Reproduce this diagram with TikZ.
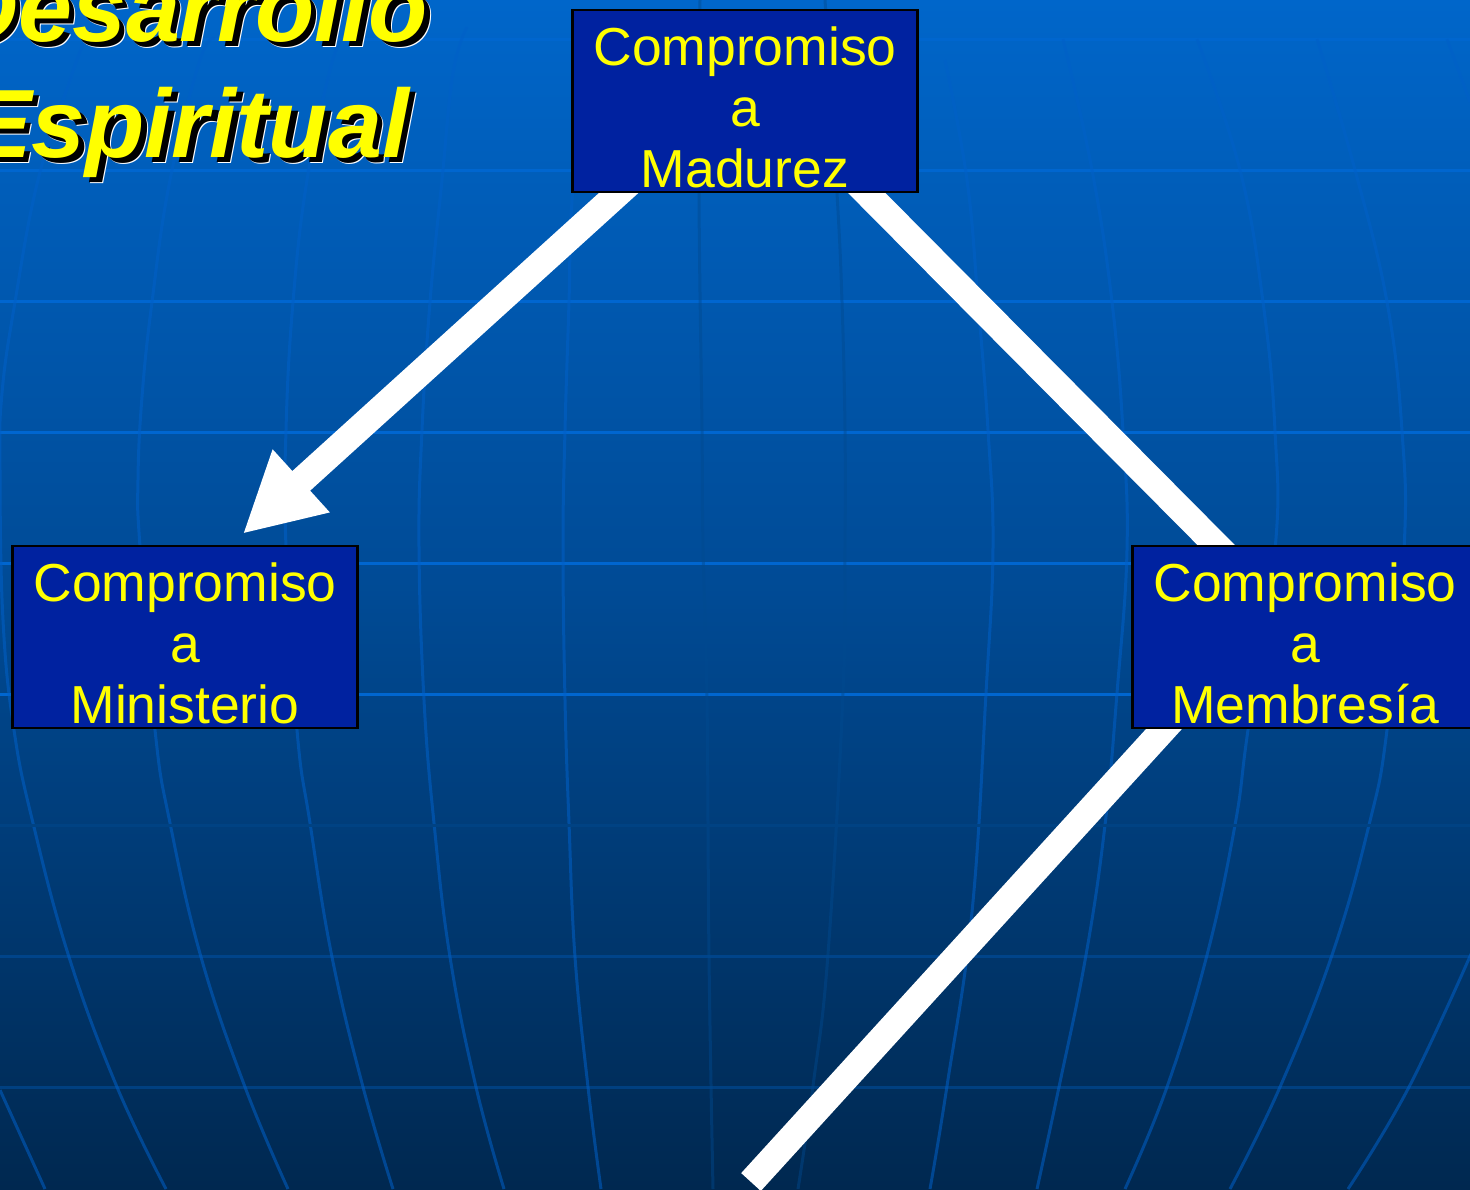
\documentclass[tikz,border=0pt]{standalone}
\usepackage{fontspec}
\setmainfont{Liberation Sans}
\usetikzlibrary{arrows.meta}
\pgfdeclarelayer{bglayer}
\pgfdeclarelayer{connlayer}
\pgfsetlayers{bglayer,connlayer,main}
\definecolor{bgA}{HTML}{0066CA}
\definecolor{bgB}{HTML}{004A94}
\definecolor{bgC}{HTML}{002850}
\definecolor{gridbright}{HTML}{0066D0}
\definecolor{gridmer}{HTML}{0060C8}
\definecolor{gridmid}{HTML}{004A90}
\definecolor{boxfill}{HTML}{0022A0}
\definecolor{ttl}{HTML}{FFFF00}
\tikzset{
  meridian/.style={draw=gridmer,opacity=.55,line width=3pt},
  centremer/.style={draw=gridmid,opacity=.45,line width=3pt},
  parallel/.style={line width=3pt},
  commitbox/.style={draw=black,line width=2.7pt,fill=boxfill,text=ttl,align=center,
    minimum width=345pt,minimum height=181pt,inner sep=0pt,outer sep=0pt,
    font=\fontsize{53.5}{61}\selectfont},
  conn/.style={draw=white,line width=26.5pt},
  titletext/.style={anchor=base,inner sep=0pt,font=\fontsize{97}{115}\selectfont\bfseries\itshape}
}
\newcommand{\firststrut}{\rule{0pt}{55pt}}
\newcommand{\laststrut}{\rule[-5pt]{0pt}{5pt}}
\newcommand{\mer}[2]{\path[#1] plot[smooth,tension=.7] coordinates {#2};}
\begin{document}
\begin{tikzpicture}[x=1pt,y=-1pt]
\useasboundingbox (0,0) rectangle (1470,1189);
\clip (0,0) rectangle (1470,1189);
\begin{pgfonlayer}{bglayer}
  \shade[top color=bgA,bottom color=bgB] (0,0) rectangle (1470,601);
  \shade[top color=bgB,bottom color=bgC] (0,600) rectangle (1470,1189);
  % parallels behind the meridians
  \draw[parallel,color=gridbright!70!bgA] (0,39.5) -- (1470,39.5);
  \draw[parallel,color=gridbright!85!bgA] (0,170) -- (1470,170);
  \foreach \yy in {301.5,432,563.5,694}{\draw[parallel,color=gridbright] (0,\yy) -- (1470,\yy);}
  \draw[parallel,color=gridbright!45!bgC] (0,956) -- (1470,956);
  \draw[parallel,color=gridbright!38!bgC] (0,1087) -- (1470,1087);
  % meridians, left half
  \mer{meridian}{(0,1090) (45,1189)}
  \mer{meridian}{(85,39) (70,80) (38,180) (15,302) (2,393) (0,470) (3,620) (14,730) (33,823) (69,957) (117,1087) (166,1189)}
  \mer{meridian}{(215,39) (200,60) (170,180) (152,302) (142,397) (138,480) (140,547) (155,730) (170,823) (201,957) (245,1087) (288,1189)}
  \mer{meridian}{(342,39) (330,70) (307,180) (293,302) (286,430) (286,547) (297,730) (310,823) (332,957) (363,1087) (393,1189)}
  \mer{meridian}{(467,27) (453,73) (442,180) (430,302) (422,430) (419,547) (424,700) (434,823) (450,957) (476,1087) (504,1189)}
  \mer{meridian}{(585,39) (572,200) (569,302) (565,430) (563,547) (565,700) (569,823) (575,957) (588,1087) (601,1189)}
  % two faint central meridians
  \mer{centremer}{(700,0) (699,193) (702,430) (703,547) (707,700) (709,957) (713,1189)}
  \mer{centremer}{(825,0) (837,193) (842,302) (845,430) (845,547) (843,693) (828,954) (813,1086) (798,1189)}
  % meridians, right half
  \mer{meridian}{(945,60) (967,180) (978,302) (988,430) (993,547) (986,693) (972,912) (947,1086) (930,1189)}
  \mer{meridian}{(1063,39) (1092,170) (1112,302) (1123,431) (1127,550) (1117,693) (1105,825) (1086,955) (1059,1087) (1037,1189)}
  \mer{meridian}{(1197,39) (1240,170) (1263,302) (1275,431) (1275,550) (1248,730) (1235,825) (1207,955) (1167,1087) (1125,1189)}
  \mer{meridian}{(1317,39) (1355,170) (1387,302) (1402,431) (1404,550) (1387,730) (1369,825) (1332,955) (1280,1087) (1230,1189)}
  \mer{meridian}{(1447,39) (1470,102)}
  \mer{meridian}{(1475,945) (1409,1087) (1348,1189)}
  % the faint parallel that interrupts the meridians
  \draw[parallel,color=bgB!75!bgC] (0,825) -- (1470,825);
\end{pgfonlayer}

\node[commitbox] (madurez) at (745,101) {\firststrut Compromiso\\a\\Madurez\laststrut};
\node[commitbox] (ministerio) at (185,637) {\firststrut Compromiso\\a\\Ministerio\laststrut};
\node[commitbox] (membresia) at (1305,637) {\firststrut Compromiso\\a\\Membresía\laststrut};
\coordinate (freeend) at (751,1182);

\begin{pgfonlayer}{connlayer}
  \draw[conn,-{Triangle[length=79pt,width=79pt]},shorten <=-22pt,shorten >=18pt] (madurez.216.9) -- (ministerio.64.2);
  \draw[conn,shorten <=-22pt,shorten >=-22pt] (madurez.-37.5) -- (membresia.134.8);
  \draw[conn,shorten <=-22pt] (membresia.213.2) -- (freeend);
\end{pgfonlayer}

\foreach \tx/\ty/\tc in {194.5/47.5/white,193.5/46.5/black,188/41/ttl}{
  \node[titletext,text=\tc] at (\tx,\ty) {Desarrollo};
}
\foreach \tx/\ty/\tc in {194.5/163.5/white,193.5/162.5/black,188/157/ttl}{
  \node[titletext,text=\tc] at (\tx,\ty) {Espiritual};
}
\end{tikzpicture}
\end{document}
